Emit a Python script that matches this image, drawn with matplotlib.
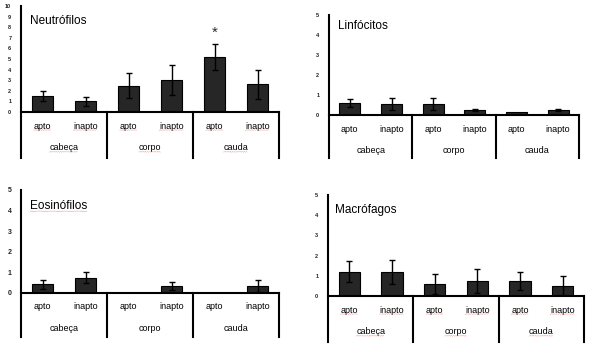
import numpy as np
import matplotlib.pyplot as plt
from matplotlib.lines import Line2D
from matplotlib.transforms import blended_transform_factory, IdentityTransform

plt.rcParams['font.family'] = ['Liberation Sans', 'DejaVu Sans']

# data
categories = ['apto', 'inapto', 'apto', 'inapto', 'apto', 'inapto']
groups = ['cabeça', 'corpo', 'cauda']

neut_mean = [1.5, 1.0, 2.5, 3.0, 5.2, 2.6]
neut_err = [0.45, 0.4, 1.2, 1.4, 1.2, 1.35]
linf_mean = [0.6, 0.53, 0.53, 0.25, 0.13, 0.25]
linf_err = [0.22, 0.3, 0.3, 0.07, 0.0, 0.05]
eos_mean = [0.4, 0.73, 0.0, 0.31, 0.0, 0.31]
eos_err = [0.2, 0.27, 0.0, 0.2, 0.0, 0.3]
macro_mean = [1.2, 1.2, 0.61, 0.74, 0.74, 0.51]
macro_err = [0.53, 0.6, 0.5, 0.58, 0.46, 0.46]

W, H = 600, 354
fig = plt.figure(figsize=(W / 100, H / 100), dpi=100)
squiggly = []  # texts the word processor underlined in red


def panel(px, title, title_xy, means, errs, ymax, tick_fs=4, star=None,
          mark_labels=False, mark_title=False):
    # px = (left, baseline, right, top, extension below baseline) in pixels
    left, base, right, top, ext = px
    ax = fig.add_axes([left / W, 1 - base / H, (right - left) / W, (base - top) / H])
    x = np.arange(len(means)) + 0.5
    ax.bar(x, means, width=0.5, color='#262626', edgecolor='black', linewidth=0.8, zorder=2)
    errs = np.array(errs)
    m = errs > 0
    ax.errorbar(x[m], np.array(means)[m], yerr=errs[m], fmt='none', ecolor='black',
                elinewidth=1.0, capsize=2, capthick=1.0, zorder=3)
    ax.set_xlim(0, len(means))
    ax.set_ylim(0, ymax)
    for s in ['top', 'right', 'left']:
        ax.spines[s].set_visible(False)
    ax.spines['bottom'].set_linewidth(1.5)
    ax.set_yticks(range(0, ymax + 1))
    ax.tick_params(axis='y', length=0, labelsize=tick_fs, pad=7, labelcolor='#222222')
    for lab in ax.get_yticklabels():
        lab.set_fontweight('bold')
    ax.set_xticks(x)
    ax.set_xticklabels(categories, fontsize=6.5)
    ax.tick_params(axis='x', length=0, pad=7)

    tr = blended_transform_factory(ax.transData, ax.transAxes)
    e = ext / (base - top)
    ax.plot([0, 0], [-e, 1], color='black', lw=1.5, transform=tr, clip_on=False)
    for g in range(1, len(groups) + 1):
        ax.plot([2 * g, 2 * g], [-e, 0], color='black', lw=1.5, transform=tr, clip_on=False)
    glabs = []
    for g, name in enumerate(groups):
        glabs.append(ax.text(2 * g + 1, -36 / (base - top), name, transform=tr, ha='center',
                             va='center', fontsize=6.5))
    t = fig.text(title_xy[0] / W, 1 - title_xy[1] / H, title, fontsize=8.5, va='center')
    if star is not None:
        ax.text(star[0], star[1], '*', ha='center', va='center', fontsize=11,
                color='#2a2a3a')
    if mark_labels:
        squiggly.extend(ax.get_xticklabels())
        squiggly.extend(glabs)
    if mark_title:
        squiggly.append(t)
    return ax


panel((21, 112, 279, 6, 46), 'Neutrófilos', (30, 21), neut_mean, neut_err, 10,
      star=(4.5, 7.5), mark_labels=True)
panel((329, 115, 579, 15, 43), 'Linfócitos', (338, 26), linf_mean, linf_err, 5)
panel((21, 292.7, 279, 190, 44), 'Eosinófilos', (30, 206), eos_mean, eos_err, 5,
      tick_fs=5, mark_title=True)
panel((328, 296, 584, 195, 46), 'Macrófagos', (335, 210), macro_mean, macro_err, 5,
      mark_labels=True)

# faint red wavy spell-check underline below the marked texts
fig.canvas.draw()
renderer = fig.canvas.get_renderer()
for t in squiggly:
    bb = t.get_window_extent(renderer)
    xs = np.arange(bb.x0, bb.x1, 1.0)
    ys = bb.y0 + 0.3 + 0.8 * (np.arange(len(xs)) % 2)
    fig.add_artist(Line2D(xs, ys, transform=IdentityTransform(), color='#ee8080',
                          lw=0.5, linestyle=(0, (1, 1))))

fig.savefig('out.png', dpi=100)
